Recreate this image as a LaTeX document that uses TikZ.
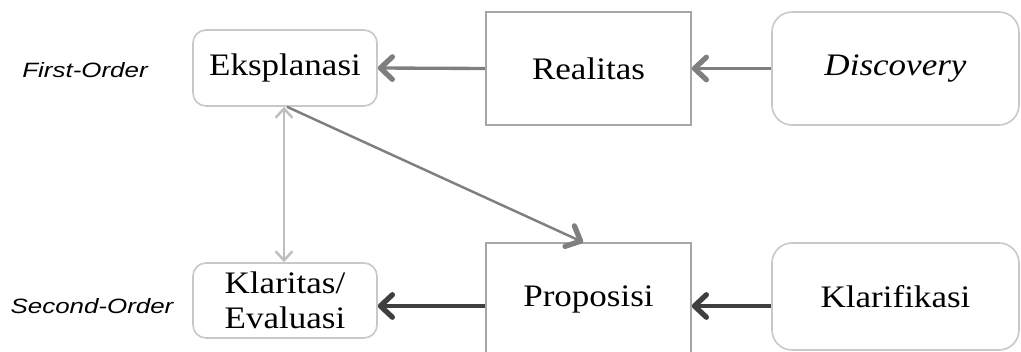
\documentclass[tikz,border=0pt]{standalone}
\usepackage{fontspec}
\setmainfont{Liberation Serif}[FakeStretch=1.12]
\setsansfont{Liberation Sans}[FakeStretch=1.25]
\usetikzlibrary{arrows.meta,positioning}
\definecolor{boxline}{HTML}{C8C8C8}
\definecolor{rectline}{HTML}{A6A6A6}
\definecolor{flowgray}{HTML}{7F7F7F}
\definecolor{flowdark}{HTML}{3F3F3F}
\definecolor{linkgray}{HTML}{BFBFBF}
\tikzset{
  roundbox/.style={draw=boxline,line width=0.45pt,rounded corners=0.13cm,fill=white,
    font=\fontsize{8.9}{9.9}\selectfont,align=center,inner sep=0pt},
  rectbox/.style={draw=rectline,line width=0.45pt,fill=white,
    font=\fontsize{8.9}{9.9}\selectfont,align=center,inner sep=0pt},
  levellabel/.style={font=\sffamily\itshape\fontsize{5.9}{7}\selectfont},
  barb/.style={-{Straight Barb[length=3.4pt,width=6.4pt,line width=1.5pt,round]}},
  thinbarb/.style={{Straight Barb[length=2.6pt,width=4.8pt,line width=0.7pt]}-{Straight Barb[length=2.6pt,width=4.8pt,line width=0.7pt]}}
}
\begin{document}
\begin{tikzpicture}
  \useasboundingbox (0,0) rectangle (10.21,3.52);

  % First-Order row
  \node[levellabel] (first) at (0.85,2.82) {First-Order};
  \node[roundbox,minimum width=1.84cm,minimum height=0.76cm] (eks) at (2.85,2.84) {Eksplanasi};
  \node[rectbox,minimum width=2.05cm,minimum height=1.13cm] (real) at (5.885,2.835) {Realitas};
  \node[roundbox,rounded corners=0.2cm,minimum width=2.47cm,minimum height=1.13cm] (disc) at (8.955,2.835) {\textit{Discovery}};

  % Second-Order row
  \node[levellabel] (second) at (0.92,0.46) {Second-Order};
  \node[roundbox,minimum width=1.84cm,minimum height=0.75cm] (klar) at (2.85,0.515) {Klaritas/\\Evaluasi};
  \node[rectbox,minimum width=2.05cm,minimum height=1.13cm] (prop) at (5.885,0.525) {Proposisi};
  \node[roundbox,rounded corners=0.2cm,minimum width=2.47cm,minimum height=1.07cm] (klarif) at (8.955,0.555) {Klarifikasi};
  \coordinate (row2) at (0,0.46);

  % Flow arrows
  \draw[barb,flowgray,line width=0.95pt] (disc.west) -- (real.east);
  \draw[barb,flowgray,line width=0.95pt] (real.west) -- (eks.east);
  \draw[barb,flowdark,line width=0.95pt] (klarif.west |- row2) -- (prop.east |- row2);
  \draw[barb,flowdark,line width=0.95pt] (prop.west |- row2) -- (klar.east |- row2);

  % Links between orders
  \draw[barb,flowgray,line width=0.7pt] ([xshift=0.02cm]eks.south) -- ([xshift=-0.055cm]prop.north);
  \draw[thinbarb,linkgray,line width=0.45pt] ([xshift=-0.01cm]eks.south) -- ([xshift=-0.01cm]klar.north);
\end{tikzpicture}
\end{document}
